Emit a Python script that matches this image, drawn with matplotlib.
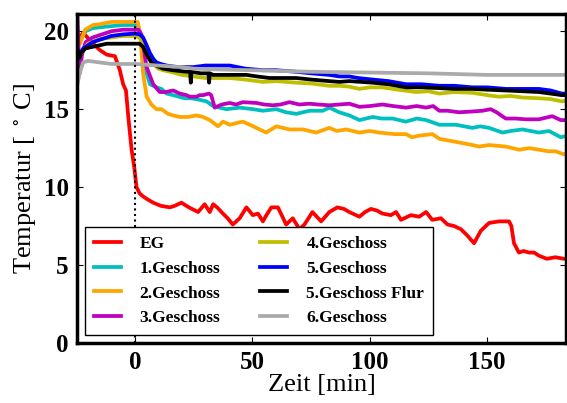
import matplotlib
matplotlib.use("Agg")
import matplotlib.pyplot as plt

plt.rcParams['font.family'] = ['Liberation Serif', 'DejaVu Serif']
plt.rcParams['mathtext.fontset'] = 'stix'

# ---- data ----
t_eg = [-25, -22, -19, -15, -12, -8.5, -6.4, -5, -3.8, -2.8, -1.4, -0.3, 0.7, 2, 3.5, 5.5, 7.8, 11, 14.9, 17,
        19.8, 23, 26.9, 29.7, 31.9, 33.3, 35, 37.5, 39.5, 41.7, 44.6, 47.5, 50.2, 52.4, 54.5, 56, 58.1, 60.9,
        62.5, 64.4, 67.2, 70.1, 72.2, 75.6, 79.3, 82.8, 86.2, 89, 91.3, 95.6, 98, 100.5, 103, 105.4, 109,
        111.2, 113.3, 117.5, 121, 124, 126.6, 130.3, 133.1, 135.9, 138.8, 141.5, 144.4, 147.3, 150.8, 155,
        159.3, 160.3, 161.4, 163.5, 165.5, 167.8, 170, 172, 175.4, 179, 182.7, 184]
y_eg = [19.3, 19.9, 19.4, 18.8, 18.5, 18.4, 17.5, 16.6, 16.2, 14.5, 12.4, 11.3, 10.0, 9.6, 9.4, 9.2, 9.0, 8.8,
        8.7, 8.8, 9.0, 8.7, 8.4, 8.9, 8.4, 8.9, 8.7, 8.3, 8.0, 7.6, 8.0, 8.7, 8.2, 8.3, 7.8, 8.2, 8.7, 8.7,
        8.2, 7.6, 8.0, 7.3, 7.6, 8.4, 7.8, 8.4, 8.7, 8.6, 8.4, 8.1, 8.4, 8.6, 8.5, 8.3, 8.2, 8.4, 7.9, 8.2,
        8.1, 8.4, 7.9, 8.0, 7.6, 7.5, 7.3, 6.9, 6.4, 7.2, 7.7, 7.8, 7.8, 7.5, 6.4, 5.8, 5.9, 5.8, 5.8, 5.6,
        5.4, 5.5, 5.4, 5.4]

t_g1 = [-25, -23, -21, -18, -12, -5, 0, 1.5, 2.5, 4.2, 6.4, 9.2, 11.3, 13.5, 16.3, 21.2, 24, 27.6, 30.5, 33.3,
        36, 39, 44.6, 50.3, 54.5, 60.2, 64.4, 68.7, 74.3, 80, 82.8, 87, 91.3, 95.6, 101.2, 105, 109.7, 115.4,
        120, 124, 129.6, 136.7, 143.7, 147, 150.8, 156.5, 160, 165, 172, 176.3, 181.3, 184]
y_g1 = [18.9, 19.5, 20.0, 20.2, 20.3, 20.4, 20.4, 20.3, 19.5, 17.7, 16.6, 16.4, 16.3, 16.0, 15.9, 15.7, 15.7,
        15.6, 15.5, 15.2, 15.1, 15.0, 15.1, 15.0, 14.9, 15.0, 14.8, 14.7, 14.9, 14.9, 15.1, 14.8, 14.6, 14.3,
        14.5, 14.4, 14.4, 14.2, 14.4, 14.3, 14.0, 14.0, 13.8, 13.9, 13.8, 13.5, 13.6, 13.7, 13.5, 13.6, 13.2,
        13.3]

t_g2 = [-25, -23.4, -21.2, -17.8, -15, -10, -5, 0, 1.2, 2.2, 3.5, 5, 7, 9.2, 11.3, 14.1, 16.3, 19.1, 22.6,
        26.2, 29, 31.9, 35.4, 37.5, 40.4, 43, 46, 49, 51.7, 55.9, 60.2, 63, 65.8, 71.5, 77.2, 82.8, 86, 89.9,
        95.6, 100, 104, 110.5, 115.4, 118, 121, 126.7, 129.6, 136.7, 143.7, 146.6, 150.8, 157.9, 163.6, 168,
        172, 176, 179, 182.7, 184]
y_g2 = [19.0, 19.2, 20.1, 20.4, 20.45, 20.6, 20.6, 20.6, 20.6, 19.9, 17.3, 15.8, 15.3, 15.0, 15.0, 14.7, 14.6,
        14.5, 14.5, 14.6, 14.5, 14.3, 13.9, 14.2, 14.0, 14.1, 14.2, 14.0, 13.8, 13.5, 13.9, 13.8, 13.7, 13.7,
        13.5, 13.8, 13.6, 13.7, 13.5, 13.6, 13.5, 13.4, 13.4, 13.2, 13.3, 13.4, 13.1, 12.9, 12.7, 12.6, 12.7,
        12.6, 12.4, 12.5, 12.4, 12.3, 12.3, 12.1, 12.2]

t_g3 = [-25, -24.6, -24.0, -23.5, -22.5, -21, -18, -14, -10, -5, 0, 1.5, 2.8, 5, 7.8, 10.6, 13, 16.3, 19.1, 22,
        23.3, 26.2, 27.6, 29, 31.5, 32.5, 34, 37, 40.4, 43, 46, 51.7, 55, 58.8, 62, 65.8, 70, 74.3, 78, 82.8,
        87.1, 91.3, 95.6, 100, 105.4, 110, 115.4, 120, 124, 127, 129.6, 133, 138.1, 143.7, 148, 151.5, 154,
        157.9, 162, 166.4, 172, 177.7, 181.3, 184]
y_g3 = [21.5, 21.5, 19.0, 17.3, 18.5, 19.3, 19.6, 19.8, 20.0, 20.1, 20.1, 20.1, 19.8, 17.7, 16.6, 16.1, 16.1,
        16.2, 16.0, 15.9, 15.8, 15.8, 15.9, 15.9, 16.0, 15.9, 15.1, 15.3, 15.4, 15.3, 15.45, 15.4, 15.3, 15.25,
        15.3, 15.45, 15.3, 15.35, 15.3, 15.25, 15.3, 15.35, 15.15, 15.2, 15.3, 15.2, 15.1, 15.2, 15.1, 15.2,
        14.9, 14.9, 14.8, 14.85, 14.9, 15.0, 14.8, 14.4, 14.4, 14.35, 14.35, 14.55, 14.3, 14.3]

t_g4 = [-25, -23, -20, -15, -10, -5, 0, 2, 4, 6, 8, 10, 12, 15, 20, 25, 30, 33.3, 40.4, 47, 54.5, 60, 68.7, 75,
        82.8, 87.1, 91, 95.6, 100, 105.4, 112, 119.6, 125, 129.6, 136, 143.7, 150, 155, 160, 165, 172, 177,
        181.8, 184]
y_g4 = [18.8, 18.6, 19.2, 19.5, 19.6, 19.7, 19.7, 19.6, 19.0, 18.3, 17.9, 17.6, 17.5, 17.4, 17.2, 17.1, 17.0,
        17.0, 17.0, 16.9, 16.75, 16.8, 16.7, 16.65, 16.5, 16.5, 16.45, 16.3, 16.4, 16.4, 16.25, 16.1, 16.15,
        16.0, 16.1, 16.05, 15.9, 15.8, 15.85, 15.75, 15.7, 15.65, 15.5, 15.55]

t_g5 = [-25, -23.5, -22, -18, -14, -10, -5, 0, 2, 3.5, 5, 6.4, 8, 9.2, 11, 13.5, 18, 24.8, 30, 35, 40.4, 47,
        54.5, 60, 68.7, 75, 82.8, 87.1, 91.3, 95, 101.2, 108, 115.4, 122, 129.6, 136, 143.7, 150, 157.9, 165,
        172, 177, 181.8, 184]
y_g5 = [18.7, 18.5, 18.9, 19.3, 19.5, 19.7, 19.8, 19.85, 19.8, 19.6, 19.1, 18.6, 18.2, 18.0, 17.9, 17.8, 17.7,
        17.7, 17.8, 17.8, 17.8, 17.6, 17.5, 17.5, 17.4, 17.3, 17.2, 17.1, 17.1, 17.0, 16.9, 16.8, 16.6, 16.6,
        16.5, 16.5, 16.4, 16.4, 16.3, 16.3, 16.3, 16.2, 16.0, 16.0]

t_g5f = [-25, -24, -23.5, -23, -21, -18, -12, -5, 0, 2, 3.5, 5, 7, 9, 12, 16, 21.9, 23.5, 23.8, 24.1, 28,
         31.3, 31.6, 31.9, 33.3, 40, 47.5, 52, 57.3, 63, 68.7, 75, 82.8, 87.1, 91.3, 101.2, 108, 115.4, 122,
         129.6, 136, 143.7, 150, 157.9, 165, 172, 177, 181.8, 184]
y_g5f = [19.0, 18.7, 18.3, 18.6, 18.9, 19.0, 19.2, 19.2, 19.2, 19.2, 19.0, 18.5, 18.0, 17.8, 17.6, 17.5, 17.4,
         17.4, 16.7, 17.4, 17.3, 17.3, 16.7, 17.3, 17.2, 17.2, 17.2, 17.1, 17.0, 17.0, 17.0, 16.9, 16.8, 16.75,
         16.8, 16.7, 16.6, 16.4, 16.4, 16.35, 16.3, 16.3, 16.25, 16.2, 16.15, 16.1, 16.0, 15.9, 15.9]

t_g6 = [-25, -24.6, -23.5, -22, -20, -15, -10, -5, 0, 5, 10, 20, 25, 35, 50, 75, 100, 125, 150, 175, 184]
y_g6 = [16.3, 16.5, 17.3, 18.0, 18.1, 18.0, 17.9, 17.9, 17.9, 17.85, 17.8, 17.7, 17.6, 17.55, 17.5, 17.4,
        17.35, 17.3, 17.2, 17.2, 17.2]

labels = ['EG', '1.Geschoss', '2.Geschoss', '3.Geschoss', '4.Geschoss', '5.Geschoss',
          '5.Geschoss Flur', '6.Geschoss']
colors = ['#ff0000', '#00bfbf', '#ffa500', '#bf00bf', '#bfbf00', '#0000ff', '#000000', '#aaaaaa']
series = [(t_eg, y_eg), (t_g1, y_g1), (t_g2, y_g2), (t_g3, y_g3), (t_g4, y_g4),
          (t_g5, y_g5), (t_g5f, y_g5f), (t_g6, y_g6)]

xticks = [0, 50, 100, 150]
yticks = [0, 5, 10, 15, 20]

fig = plt.figure(figsize=(5.67, 4.03), dpi=100)
ax = fig.add_axes([0.136, 0.149, 0.862, 0.816])

for (t, y), lab, c in zip(series, labels, colors):
    ax.plot(t, y, color=c, lw=2.7, label=lab)

ax.axvline(0, color='black', ls=':', lw=1.5)

ax.set_xlim(-24.6, 183.5)
ax.set_ylim(0, 21.1)
ax.set_xticks(xticks)
ax.set_yticks(yticks)
ax.tick_params(direction='in', top=True, right=True, length=4, width=0.8, pad=6)
for lbl in ax.get_xticklabels() + ax.get_yticklabels():
    lbl.set_fontweight('bold')
    lbl.set_fontsize(18)
for s in ax.spines.values():
    s.set_linewidth(2.5)

ax.set_xlabel('Zeit [min]', fontsize=19, labelpad=0)
ax.set_ylabel('Temperatur [ $^\\circ$ C]', fontsize=19, labelpad=4)

leg = ax.legend(loc='lower left', ncol=2, bbox_to_anchor=(0.016, 0.024),
                prop={'weight': 'bold', 'size': 12.5}, fancybox=False, framealpha=1,
                edgecolor='black', handlelength=1.55, handletextpad=1.1, columnspacing=2.3,
                labelspacing=0.5, borderpad=0.5, borderaxespad=0.0)
leg.get_frame().set_linewidth(1.0)

fig.savefig('out.png', dpi=100)
